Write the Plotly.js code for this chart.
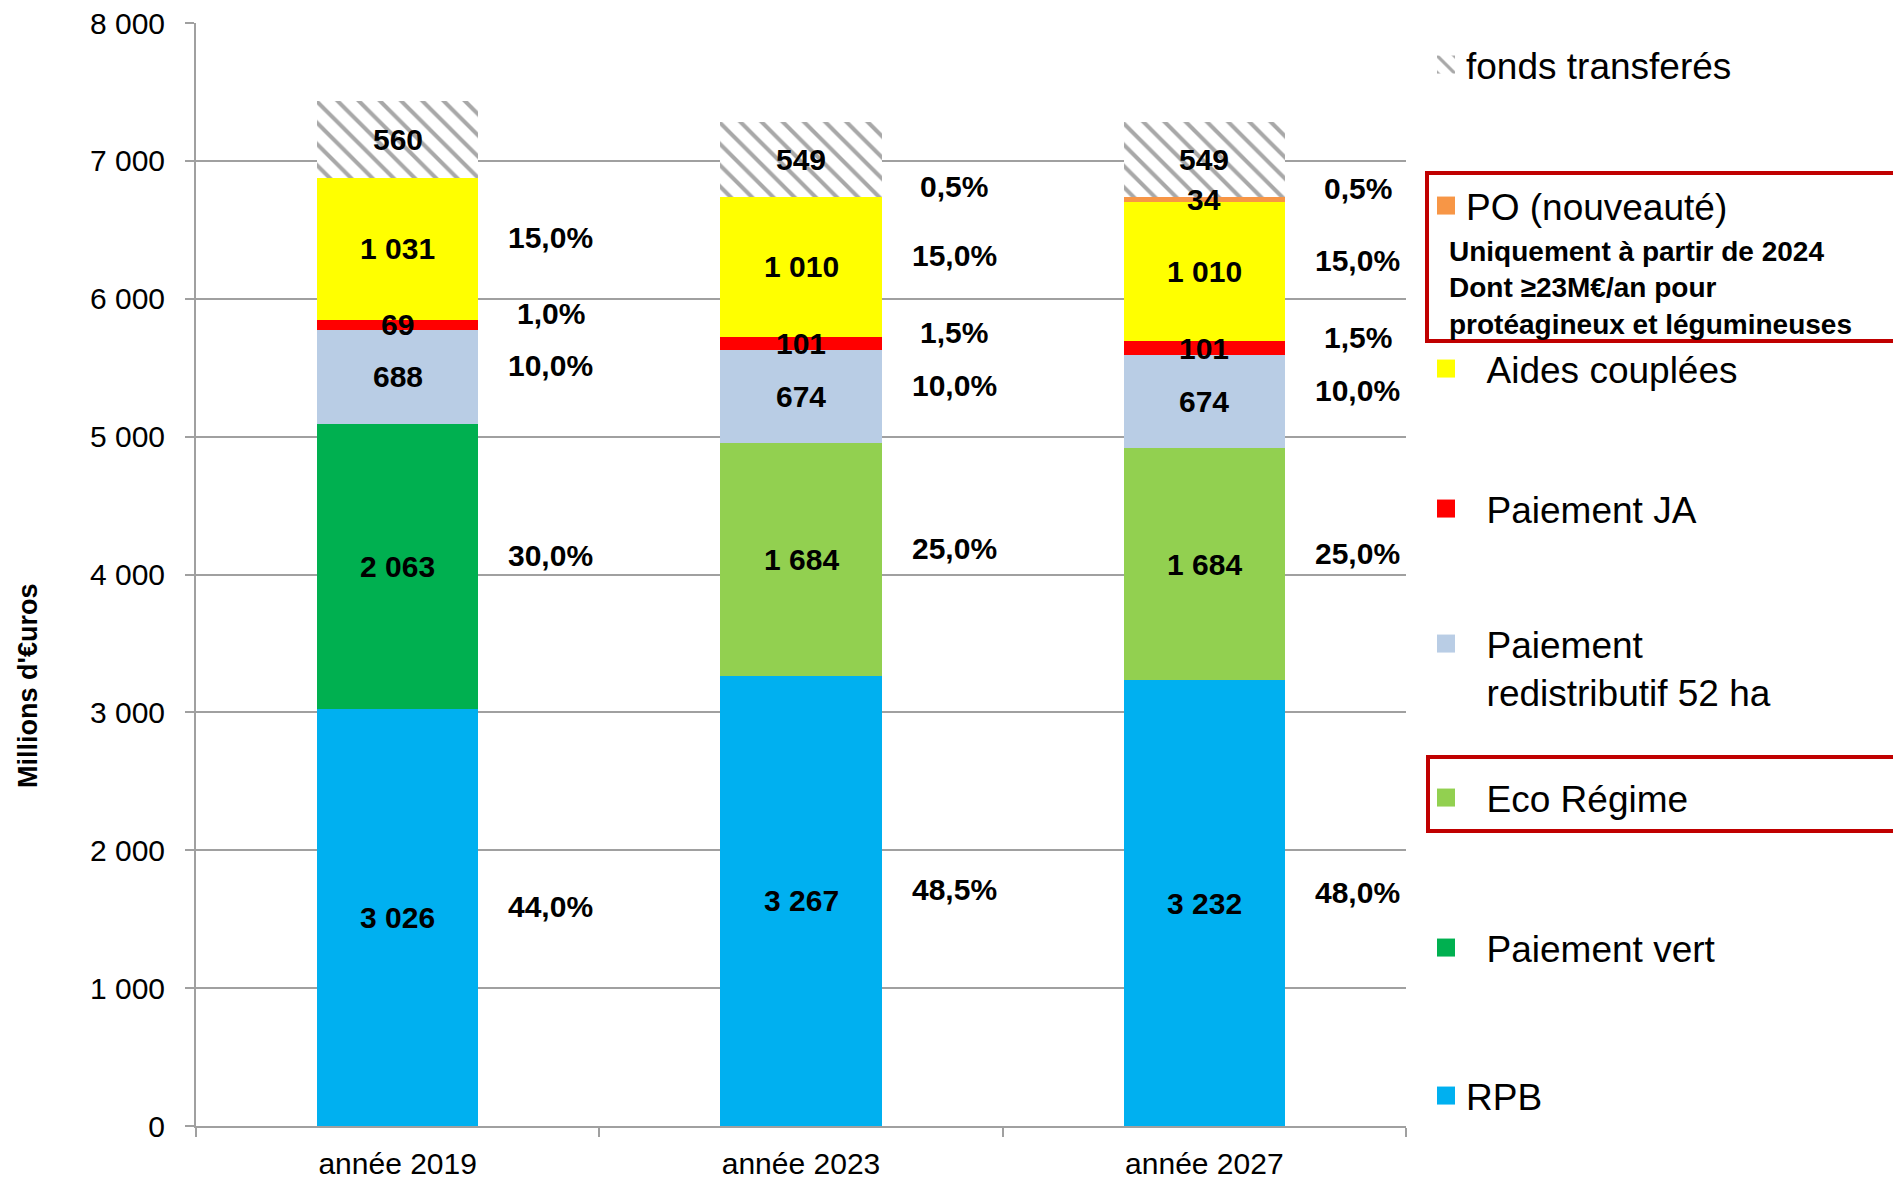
<!DOCTYPE html>
<html><head><meta charset="utf-8">
<script src="https://cdn.plot.ly/plotly-3.0.1.min.js"></script>
<style>html,body{margin:0;padding:0;background:#fff}</style>
</head><body><div id="chart" style="width:1893px;height:1180px"></div>
<script>
// ---- data ----
const categories = ['année 2019', 'année 2023', 'année 2027'];
const rpb = [3026, 3267, 3232];
const paiementVert = [2063, 0, 0];
const ecoRegime = [0, 1684, 1684];
const redistributif = [688, 674, 674];
const paiementJA = [69, 101, 101];
const aidesCouplees = [1031, 1010, 1010];
const po = [0, 0, 34];
const fondsTransferes = [560, 549, 549];

const pctRpb = ['44,0%', '48,5%', '48,0%'];
const pctVert = ['30,0%', '', ''];
const pctEco = ['', '25,0%', '25,0%'];
const pctRedistributif = ['10,0%', '10,0%', '10,0%'];
const pctJA = ['1,0%', '1,5%', '1,5%'];
const pctAides = ['15,0%', '15,0%', '15,0%'];
const pctPO = ['', '0,5%', '0,5%'];
const pctFonds = ['', '', ''];

const legendLabels = ['RPB', '\u00a0\u00a0Paiement vert', '\u00a0\u00a0Eco Régime',
  '\u00a0\u00a0Paiement<br>\u00a0\u00a0redistributif 52 ha', '\u00a0\u00a0Paiement JA',
  '\u00a0\u00a0Aides couplées', 'PO (nouveauté)', 'fonds transferés'];
const poNote = 'Uniquement à partir de 2024<br>Dont ≥23M€/an pour<br>protéagineux et légumineuses';
const yTitle = "Millions d'€uros";

// ---- styling ----
const FONT = 'Liberation Sans, Arial, sans-serif';
const values = [rpb, paiementVert, ecoRegime, redistributif, paiementJA, aidesCouplees, po, fondsTransferes];
const pcts = [pctRpb, pctVert, pctEco, pctRedistributif, pctJA, pctAides, pctPO, pctFonds];
const colors = ['#00B0F0', '#00B050', '#92D050', '#B9CDE5', '#FF0000', '#FFFF00', '#F79646', '#FFFFFF'];
// legend centre positions in pixels (figure coords)
const legendPx = [1096, 948, 798, 668, 509, 369, 206, 65];

const fmt = v => String(v).replace(/\B(?=(\d{3})+(?!\d))/g, ' ');

// plot area in px
const L = 196, R = 1406, T = 23, B = 1126;
const W = 1893, H = 1180;
const px2paperX = x => (x - L) / (R - L);
const px2paperY = y => (B - y) / (B - T);

const traces = values.map((vals, s) => {
  const t = {
    type: 'bar',
    name: legendLabels[s],
    x: categories,
    y: vals,
    marker: {color: colors[s], line: {width: 0}},
    legend: s === 0 ? 'legend' : 'legend' + (s + 1),
    hoverinfo: 'name+y'
  };
  if (s === 7) {
    t.marker = {color: '#FFFFFF', line: {width: 0},
      pattern: {shape: '\\', fgcolor: '#A8A8A8', bgcolor: '#FFFFFF', size: 15, solidity: 0.27}};
  }
  return t;
});

// value labels (centre of each segment) and percentage labels (right of bar)
const annotations = [];
for (let i = 0; i < categories.length; i++) {
  let base = 0;
  for (let s = 0; s < values.length; s++) {
    const v = values[s][i];
    if (v > 0) {
      annotations.push({
        x: i, y: base + v / 2, xref: 'x', yref: 'y',
        text: fmt(v), showarrow: false, xanchor: 'center', yanchor: 'middle',
        font: {family: FONT, size: 30, color: '#000', weight: 'bold'}
      });
    }
    if (pcts[s][i]) {
      annotations.push({
        x: i + 0.38, y: base + v / 2 + 80, xref: 'x', yref: 'y',
        text: pcts[s][i], showarrow: false, xanchor: 'center', yanchor: 'middle',
        font: {family: FONT, size: 30, color: '#000', weight: 'bold'}
      });
    }
    base += v;
  }
}
annotations.push({
  xref: 'paper', yref: 'paper', x: px2paperX(1447), y: px2paperY(288),
  xanchor: 'left', yanchor: 'middle', align: 'left', showarrow: false,
  text: poNote, font: {family: FONT, size: 28, color: '#000', weight: 'bold'}
});
annotations.push({
  xref: 'paper', yref: 'paper', x: px2paperX(28), y: px2paperY(686),
  xanchor: 'center', yanchor: 'middle', showarrow: false, textangle: -90,
  text: yTitle, font: {family: FONT, size: 27, color: '#000', weight: 'bold'}
});

const layout = {
  width: W, height: H,
  margin: {l: L, r: W - R, t: T, b: H - B, pad: 0},
  paper_bgcolor: '#fff', plot_bgcolor: '#fff',
  separators: ', ',
  barmode: 'stack',
  bargap: 0.6,
  font: {family: FONT, color: '#000'},
  xaxis: {
    type: 'category', showline: true, linecolor: '#A0A0A0', linewidth: 2,
    ticks: 'outside', tickson: 'boundaries', ticklen: 9, tickwidth: 2, tickcolor: '#A0A0A0',
    showgrid: false, tickfont: {family: FONT, size: 30, color: '#000'},
    ticklabelstandoff: 10
  },
  yaxis: {
    range: [0, 8000], dtick: 1000, tick0: 0, tickformat: ',d', separatethousands: true,
    showline: true, linecolor: '#A0A0A0', linewidth: 2,
    ticks: 'outside', ticklen: 9, tickwidth: 2, tickcolor: '#A0A0A0',
    showgrid: true, gridcolor: '#A0A0A0', gridwidth: 2, zeroline: false,
    tickfont: {family: FONT, size: 30, color: '#000'},
    ticklabelstandoff: 14
  },
  annotations: annotations,
  shapes: [
    {type: 'rect', xref: 'paper', yref: 'paper', x0: px2paperX(1427), x1: px2paperX(1900),
      y0: px2paperY(341), y1: px2paperY(173), line: {color: '#C00000', width: 4}, fillcolor: 'rgba(0,0,0,0)'},
    {type: 'rect', xref: 'paper', yref: 'paper', x0: px2paperX(1428), x1: px2paperX(1900),
      y0: px2paperY(831), y1: px2paperY(757), line: {color: '#C00000', width: 4}, fillcolor: 'rgba(0,0,0,0)'}
  ],
  showlegend: true
};
legendPx.forEach((py, s) => {
  const key = s === 0 ? 'legend' : 'legend' + (s + 1);
  layout[key] = {
    x: px2paperX(1426), y: px2paperY(py), xanchor: 'left', yanchor: 'middle',
    bgcolor: 'rgba(0,0,0,0)', borderwidth: 0, valign: 'top',
    font: {family: FONT, size: 37, color: '#000'}
  };
});

Plotly.newPlot('chart', traces, layout, {displayModeBar: false, staticPlot: true}).then(() => {
  document.querySelectorAll('.legendpoints path').forEach(p => {
    const tr = p.getAttribute('transform') || '';
    p.setAttribute('transform', tr + ' scale(1.5)');
  });
});
</script>
</body></html>
